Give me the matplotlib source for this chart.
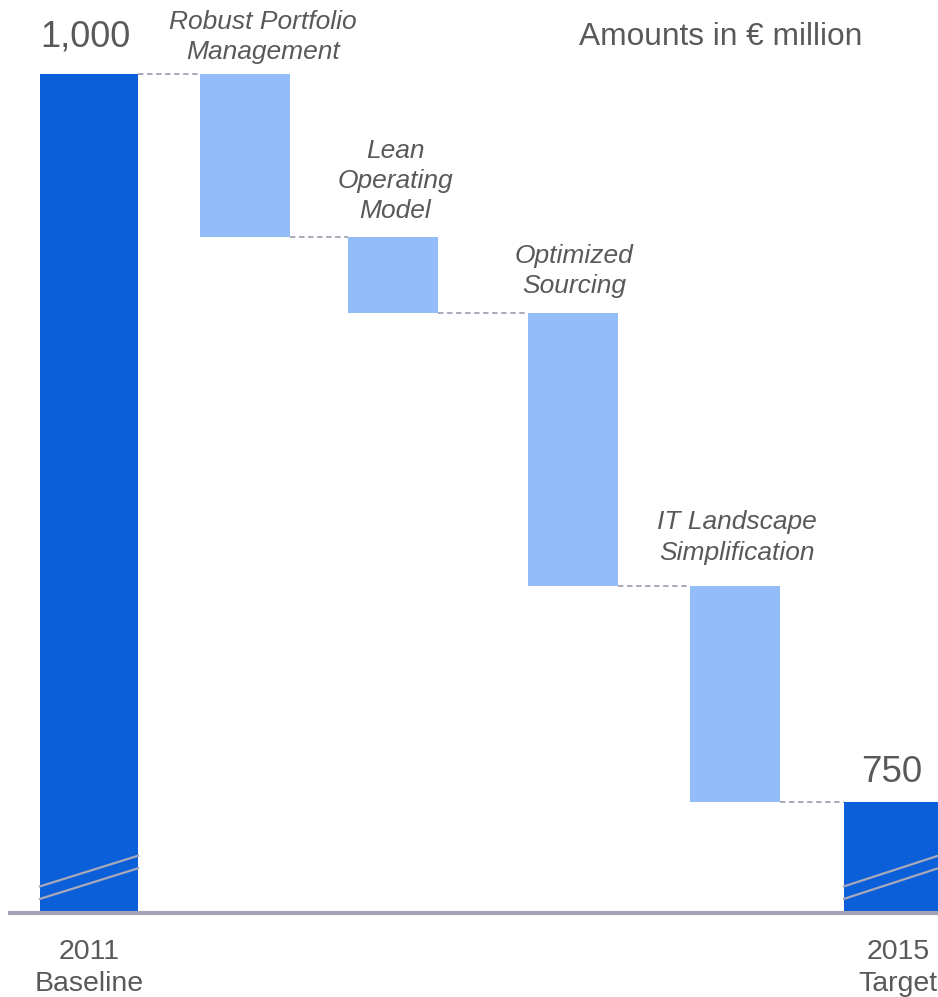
import matplotlib.pyplot as plt
from matplotlib.transforms import offset_copy

plt.rcParams['font.family'] = ['Liberation Sans', 'DejaVu Sans']

# waterfall data (EUR million)
start_value = 1000
end_value = 750
steps = ["Robust Portfolio\nManagement", "Lean\nOperating\nModel",
         "Optimized\nSourcing", "IT Landscape\nSimplification"]
reductions = [56, 26, 94, 74]
end_labels = ["2011\nBaseline", "2015\nTarget"]

# horizontal layout of the columns (pixel units on the x axis)
x_start, x_end = 89, 891
x_steps = [245, 393, 573, 735]
w_total, w_step = 98, 90
y_floor = 712  # truncated axis bottom

dark = "#0b5fd9"
light = "#93bdf8"
grey_txt = "#595959"
line_col = "#a3a3b5"

fig = plt.figure(figsize=(9.38, 9.97), dpi=100)
ax = fig.add_axes([0, 0, 1, 1])
ax.set_xlim(0, 938)
ax.set_ylim(683.0, 1025.4)
ax.axis("off")

# total columns
ax.bar(x_start, start_value - y_floor, bottom=y_floor, width=w_total, color=dark, zorder=2)
ax.bar(x_end, end_value - y_floor, bottom=y_floor, width=w_total - 4, color=dark, zorder=2)

# step columns + dashed connectors
level = start_value
prev_right = x_start + w_total / 2
for x, r in zip(x_steps, reductions):
    ax.plot([prev_right, x - w_step / 2], [level, level], ls=(0, (3, 2)),
            color=line_col, lw=1.3, zorder=1)
    ax.bar(x, -r, bottom=level, width=w_step, color=light, zorder=2)
    level -= r
    prev_right = x + w_step / 2
ax.plot([prev_right, x_end - (w_total - 4) / 2], [level, level], ls=(0, (3, 2)),
        color=line_col, lw=1.3, zorder=1)

# baseline axis
ax.plot([8, 938], [y_floor, y_floor], color=line_col, lw=3, zorder=3,
        solid_capstyle="butt")

# axis break marks on the totals
for x0, w in [(x_start, w_total), (x_end, w_total - 4)]:
    for dy in (0, -4.3):
        ax.plot([x0 - w / 2, x0 + w / 2], [721 + dy, 731.5 + dy], color="#a9a9b9",
                lw=1.6, zorder=3)

# value labels
ax.text(x_start - 4, start_value + 12.8, "1,000", ha="center", va="center",
        fontsize=26, color=grey_txt)
ax.text(x_end + 1, end_value + 10, "750", ha="center", va="center",
        fontsize=26.5, color=grey_txt)

# step labels above each column
offsets = [(18, 37), (2, 56), (1, 42), (2, 49)]
level = start_value
for x, r, name, (dx, dy) in zip(x_steps, reductions, steps, offsets):
    tr = offset_copy(ax.transData, fig=fig, x=dx, y=dy, units="dots")
    ax.text(x, level, name, transform=tr, ha="center", va="center",
            fontsize=19, style="italic", color=grey_txt, linespacing=1.33)
    level -= r

# category labels under the axis
ax.text(x_start, y_floor - 18.9, end_labels[0], ha="center", va="center",
        fontsize=20.5, color=grey_txt, linespacing=1.3)
ax.text(898, y_floor - 18.9, end_labels[1], ha="center", va="center",
        fontsize=20.5, color=grey_txt, linespacing=1.3)

ax.text(721, 1012.6, "Amounts in € million", ha="center", va="center",
        fontsize=22.8, color=grey_txt)

fig.savefig("out.png", dpi=100)
